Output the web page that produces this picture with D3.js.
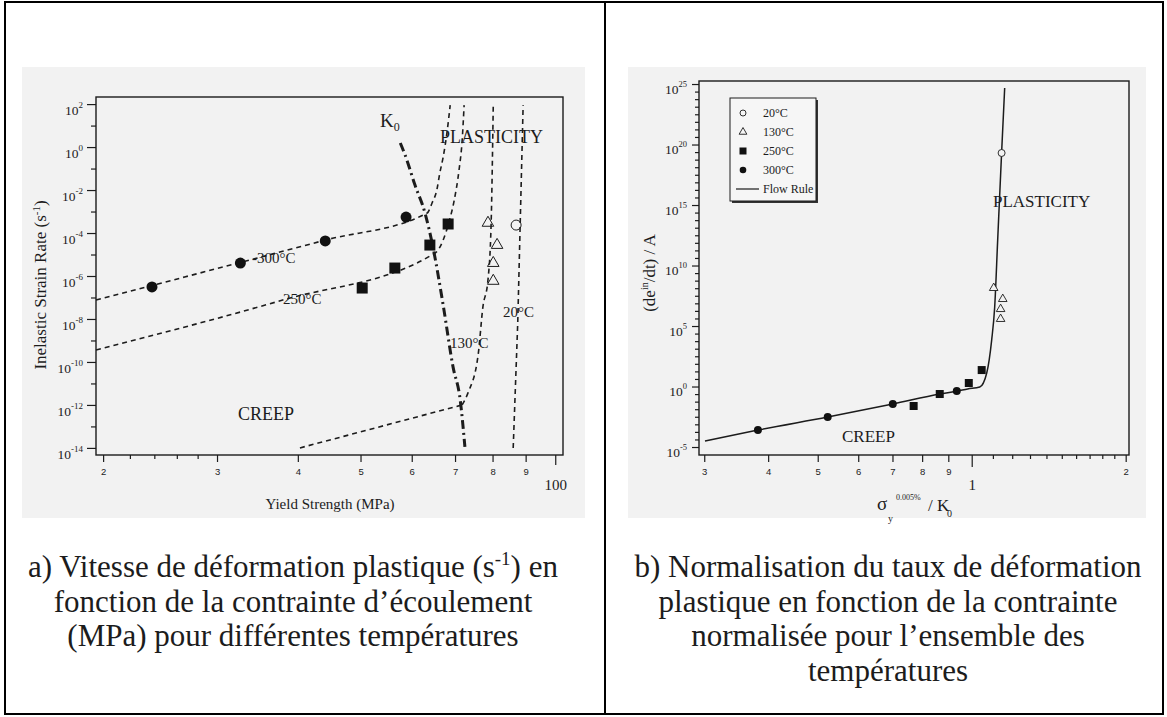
<!DOCTYPE html>
<html>
<head>
<meta charset="utf-8">
<script src="https://cdn.jsdelivr.net/npm/d3@7"></script>
<style>
    body { margin: 0; background: #fff; }
    svg text { font-family: "Liberation Serif", "Times New Roman", serif; fill: #1c1c1c; }
    .small text, text.small { font-family: "Liberation Sans", Arial, sans-serif; }
</style>
</head>
<body>
<svg id="fig" width="1167" height="717"></svg>
<script>
// ---------- data ----------
// panel a : yield strength (MPa) and log10 of the inelastic strain rate (1/s)
const stress300 = [23.8, 32.6, 44.1, 58.8];
const rate300 = [-6.51, -5.40, -4.37, -3.26];
const stress250 = [50.3, 56.5, 64.0, 68.3];
const rate250 = [-6.56, -5.63, -4.56, -3.58];
const stress130 = [78.7, 81.3, 80.2, 80.2];
const rate130 = [-3.53, -4.56, -5.40, -6.23];
const stress20 = [87.0];
const rate20 = [-3.63];

// dashed curves, [MPa, log10 rate]
const curve300 = [[19.5, -7.12], [44.1, -4.33], [63.4, -3.07], [64.5, -2.60], [65.6, -2.0], [66.3, -1.21], [67.1, -0.47], [68.0, 0.65], [68.8, 1.95]];
const curve250 = [[19.5, -9.44], [37.9, -7.12], [65.2, -4.93], [67.1, -4.33], [68.5, -3.49], [69.8, -2.47], [71.0, -1.07], [71.8, 0.33], [72.3, 1.95]];
const curve130 = [[71.8, -12.0], [73.3, -11.44], [76.0, -9.67], [77.3, -7.44], [78.7, -6.19], [79.6, -3.53], [80.2, 1.95]];
const creepLine = [[40.3, -14.0], [71.8, -12.0]];
const curve20 = [[86.1, -14.0], [87.5, -8.19], [89.2, 1.95]];
const curveK0 = [[57.6, 0.19], [58.6, -0.37], [60.7, -1.77], [62.9, -3.07], [64.7, -4.65], [67.1, -7.35], [69.5, -10.23], [71.3, -11.77], [72.5, -13.95]];

const xTicksA = [20, 30, 40, 50, 60, 70, 80, 90];
const xTickLabelsA = ["2", "3", "4", "5", "6", "7", "8", "9"];
const xMinorA = [22, 24, 26, 28];
const yExpA = [2, 0, -2, -4, -6, -8, -10, -12, -14];
const yMinorExpA = [1, -1, -3, -5, -7, -9, -11, -13];

// panel b : normalised stress and log10 of (d e_in/dt)/A
const norm300 = [0.382, 0.523, 0.701, 0.935];
const rateN300 = [-3.6, -2.52, -1.45, -0.37];
const norm250 = [0.770, 0.866, 0.987, 1.046];
const rateN250 = [-1.61, -0.62, 0.29, 1.36];
const norm130 = [1.104, 1.150, 1.139, 1.139];
const rateN130 = [8.14, 7.23, 6.40, 5.58];
const norm20 = [1.144];
const rateN20 = [19.3];
const flowRule = [[0.301, -4.5], [0.382, -3.6], [0.523, -2.52], [0.701, -1.45], [0.866, -0.62], [0.939, -0.37], [0.982, -0.2], [1.037, -0.04], [1.070, 1.12], [1.094, 3.84], [1.109, 6.57], [1.124, 12.1], [1.144, 19.3], [1.160, 24.67]];

const xTicksB = [0.3, 0.4, 0.5, 0.6, 0.7, 0.8, 0.9, 2];
const xTickLabelsB = ["3", "4", "5", "6", "7", "8", "9", "2"];
const xMinorB = [1.1, 1.2, 1.3, 1.4, 1.5, 1.6, 1.7, 1.8, 1.9];
const yExpB = [25, 20, 15, 10, 5, 0, -5];

const legendB = ["20°C", "130°C", "250°C", "300°C", "Flow Rule"];

const captionA = ["fonction de la contrainte d’écoulement", "(MPa) pour différentes températures"];
const captionB = ["b) Normalisation du taux de déformation", "plastique en fonction de la contrainte", "normalisée pour l’ensemble des", "températures"];

const ink = "#1c1c1c";
const svg = d3.select("#fig");

// ---------- table and scanned backgrounds ----------
svg.append("rect").attr("x", 5).attr("y", 2).attr("width", 1158).attr("height", 712)
    .attr("fill", "none").attr("stroke", "#000").attr("stroke-width", 2);
svg.append("line").attr("x1", 605).attr("x2", 605).attr("y1", 2).attr("y2", 714)
    .attr("stroke", "#000").attr("stroke-width", 2);
svg.append("rect").attr("x", 22).attr("y", 67).attr("width", 563).attr("height", 451).attr("fill", "#f2f2f2");
svg.append("rect").attr("x", 628).attr("y", 67).attr("width", 518).attr("height", 451).attr("fill", "#f2f2f2");

function pow10Labels(g, size, supSize, dy) {
    g.selectAll(".tick text").each(function (d) {
        let t = d3.select(this);
        let e = Math.round(Math.log10(d));
        t.text(null).attr("dy", dy).attr("font-size", size)
            .attr("font-family", "Liberation Serif, serif").attr("fill", ink);
        t.append("tspan").text("10");
        t.append("tspan").attr("font-size", supSize).attr("dy", -size * 0.55).text(e);
    });
}

function cleanAxis(g) {
    g.select(".domain").remove();
    g.selectAll("line").attr("stroke", ink).attr("stroke-width", 1.2);
}

// ---------- panel a ----------
function drawPanelA() {
    let x = d3.scaleLog().domain([19.5, 102.8]).range([96, 563]);
    let y = d3.scaleLog().domain([Math.pow(10, -14.33), Math.pow(10, 2.33)]).range([455, 97]);
    let px = d => x(d[0]);
    let py = d => y(Math.pow(10, d[1]));
    let g = svg.append("g");

    // frame
    g.append("rect").attr("x", 96).attr("y", 97).attr("width", 467).attr("height", 358)
        .attr("fill", "none").attr("stroke", ink).attr("stroke-width", 1.4);

    // y axis
    let yAxis = g.append("g").attr("transform", "translate(96,0)")
        .call(d3.axisLeft(y).tickValues(yExpA.map(e => Math.pow(10, e))).tickSize(9).tickPadding(4));
    cleanAxis(yAxis);
    pow10Labels(yAxis, 13.5, 9, "0.8em");
    let yMinor = g.append("g").attr("transform", "translate(96,0)")
        .call(d3.axisLeft(y).tickValues(yMinorExpA.map(e => Math.pow(10, e))).tickSize(5).tickFormat(""));
    cleanAxis(yMinor);

    // x axis
    let xAxis = g.append("g").attr("class", "small").attr("transform", "translate(0,455)")
        .call(d3.axisBottom(x).tickValues(xTicksA).tickSize(7).tickPadding(6)
            .tickFormat((d, i) => xTickLabelsA[i]));
    cleanAxis(xAxis);
    xAxis.selectAll("text").attr("font-size", 9.5).attr("fill", "#333");
    let xHundred = g.append("g").attr("transform", "translate(0,455)")
        .call(d3.axisBottom(x).tickValues([100]).tickSize(10).tickPadding(14).tickFormat(d3.format("d")));
    cleanAxis(xHundred);
    xHundred.selectAll("text").attr("font-size", 15).attr("font-family", "Liberation Serif, serif").attr("fill", ink);
    let xMinor = g.append("g").attr("transform", "translate(0,455)")
        .call(d3.axisBottom(x).tickValues(xMinorA).tickSize(4).tickFormat(""));
    cleanAxis(xMinor);

    // dashed curves
    let line = d3.line().x(px).y(py);
    let dashed = (data, curve) => g.append("path").datum(data)
        .attr("d", line.curve(curve)(data))
        .attr("fill", "none").attr("stroke", ink).attr("stroke-width", 1.6)
        .attr("stroke-dasharray", "5,4");
    dashed(curve300, d3.curveMonotoneX);
    dashed(curve250, d3.curveMonotoneX);
    dashed(curve130, d3.curveMonotoneX);
    dashed(creepLine, d3.curveLinear);
    dashed(curve20, d3.curveLinear);
    g.append("path").attr("d", line.curve(d3.curveMonotoneX)(curveK0))
        .attr("fill", "none").attr("stroke", ink).attr("stroke-width", 3)
        .attr("stroke-dasharray", "9,4,2,4");

    // markers
    g.selectAll(".c300").data(stress300).enter().append("circle")
        .attr("cx", d => x(d)).attr("cy", (d, i) => y(Math.pow(10, rate300[i])))
        .attr("r", 5.5).attr("fill", "#111");
    g.selectAll(".s250").data(stress250).enter().append("rect")
        .attr("x", d => x(d) - 5.5).attr("y", (d, i) => y(Math.pow(10, rate250[i])) - 5.5)
        .attr("width", 11).attr("height", 11).attr("fill", "#111");
    g.selectAll(".t130").data(stress130).enter().append("path")
        .attr("d", d3.symbol().type(d3.symbolTriangle).size(58))
        .attr("transform", (d, i) => "translate(" + x(d) + "," + y(Math.pow(10, rate130[i])) + ")")
        .attr("fill", "none").attr("stroke", ink).attr("stroke-width", 1);
    g.selectAll(".o20").data(stress20).enter().append("circle")
        .attr("cx", d => x(d)).attr("cy", (d, i) => y(Math.pow(10, rate20[i])))
        .attr("r", 5).attr("fill", "none").attr("stroke", ink).attr("stroke-width", 1);

    // annotations
    let k0 = g.append("text").attr("x", 380).attr("y", 127).attr("font-size", 19);
    k0.append("tspan").text("K");
    k0.append("tspan").attr("font-size", 12).attr("dy", 4).text("0");
    g.append("text").attr("x", 440).attr("y", 143).attr("font-size", 18).text("PLASTICITY");
    g.append("text").attr("x", 238).attr("y", 420).attr("font-size", 18).text("CREEP");
    g.append("text").attr("x", 252).attr("y", 263).attr("font-size", 15).text("-300°C");
    g.append("text").attr("x", 283).attr("y", 304).attr("font-size", 15).text("250°C");
    g.append("text").attr("x", 450).attr("y", 348).attr("font-size", 15).text("130°C");
    g.append("text").attr("x", 503).attr("y", 317).attr("font-size", 15).text("20°C");

    // axis titles
    let yl = g.append("text").attr("transform", "translate(46,285) rotate(-90)")
        .attr("text-anchor", "middle").attr("font-size", 17);
    yl.append("tspan").text("Inelastic Strain Rate (s");
    yl.append("tspan").attr("font-size", 11).attr("dy", -6).text("-1");
    yl.append("tspan").attr("dy", 6).text(")");
    g.append("text").attr("x", 330).attr("y", 509).attr("text-anchor", "middle")
        .attr("font-size", 15).text("Yield Strength (MPa)");
}

// ---------- panel b ----------
function drawPanelB() {
    let x = d3.scaleLog().domain([0.293, 2.03]).range([699, 1129]);
    let y = d3.scaleLog().domain([Math.pow(10, -5.66), Math.pow(10, 25.25)]).range([455, 81]);
    let g = svg.append("g");

    g.append("rect").attr("x", 699).attr("y", 81).attr("width", 430).attr("height", 374)
        .attr("fill", "none").attr("stroke", ink).attr("stroke-width", 1.4);

    // y axis, 7 minor ticks between labelled decades
    let minorExp = [];
    yExpB.slice(1).forEach(function (e) {
        for (let k = 1; k < 8; k++) minorExp.push(e + k * 5 / 8);
    });
    let yAxis = g.append("g").attr("transform", "translate(699,0)")
        .call(d3.axisLeft(y).tickValues(yExpB.map(e => Math.pow(10, e))).tickSize(7).tickPadding(5));
    cleanAxis(yAxis);
    pow10Labels(yAxis, 13.5, 8.5, "0.7em");
    let yMinor = g.append("g").attr("transform", "translate(699,0)")
        .call(d3.axisLeft(y).tickValues(minorExp.map(e => Math.pow(10, e))).tickSize(4).tickFormat(""));
    cleanAxis(yMinor);

    // x axis
    let xAxis = g.append("g").attr("class", "small").attr("transform", "translate(0,455)")
        .call(d3.axisBottom(x).tickValues(xTicksB).tickSize(7).tickPadding(6)
            .tickFormat((d, i) => xTickLabelsB[i]));
    cleanAxis(xAxis);
    xAxis.selectAll("text").attr("font-size", 9.5).attr("fill", "#333");
    let xOne = g.append("g").attr("transform", "translate(0,455)")
        .call(d3.axisBottom(x).tickValues([1]).tickSize(12).tickPadding(12).tickFormat(d3.format("d")));
    cleanAxis(xOne);
    xOne.selectAll("text").attr("font-size", 15).attr("font-family", "Liberation Serif, serif").attr("fill", ink);
    let xMinor = g.append("g").attr("transform", "translate(0,455)")
        .call(d3.axisBottom(x).tickValues(xMinorB).tickSize(4).tickFormat(""));
    cleanAxis(xMinor);

    // flow rule
    let line = d3.line().x(d => x(d[0])).y(d => y(Math.pow(10, d[1]))).curve(d3.curveMonotoneX);
    g.append("path").attr("d", line(flowRule))
        .attr("fill", "none").attr("stroke", ink).attr("stroke-width", 1.5);

    // markers
    g.selectAll(".c300").data(norm300).enter().append("circle")
        .attr("cx", d => x(d)).attr("cy", (d, i) => y(Math.pow(10, rateN300[i])))
        .attr("r", 4).attr("fill", "#111");
    g.selectAll(".s250").data(norm250).enter().append("rect")
        .attr("x", d => x(d) - 4).attr("y", (d, i) => y(Math.pow(10, rateN250[i])) - 4)
        .attr("width", 8).attr("height", 8).attr("fill", "#111");
    g.selectAll(".t130").data(norm130).enter().append("path")
        .attr("d", d3.symbol().type(d3.symbolTriangle).size(32))
        .attr("transform", (d, i) => "translate(" + x(d) + "," + y(Math.pow(10, rateN130[i])) + ")")
        .attr("fill", "#f2f2f2").attr("stroke", ink).attr("stroke-width", 0.9);
    g.selectAll(".o20").data(norm20).enter().append("circle")
        .attr("cx", d => x(d)).attr("cy", (d, i) => y(Math.pow(10, rateN20[i])))
        .attr("r", 3.5).attr("fill", "#f2f2f2").attr("stroke", ink).attr("stroke-width", 0.9);

    // legend
    let lg = g.append("g");
    lg.append("rect").attr("x", 732).attr("y", 100).attr("width", 86).attr("height", 103).attr("fill", "#333");
    lg.append("rect").attr("x", 730).attr("y", 98).attr("width", 86).attr("height", 103)
        .attr("fill", "#f6f6f6").attr("stroke", ink).attr("stroke-width", 1);
    let rowY = d3.scalePoint().domain(legendB).range([113, 189]);
    legendB.forEach(function (name, i) {
        let cy = rowY(name);
        if (i === 0) lg.append("circle").attr("cx", 743).attr("cy", cy).attr("r", 3)
            .attr("fill", "none").attr("stroke", ink).attr("stroke-width", 0.9);
        if (i === 1) lg.append("path").attr("d", d3.symbol().type(d3.symbolTriangle).size(26))
            .attr("transform", "translate(743," + cy + ")").attr("fill", "none").attr("stroke", ink).attr("stroke-width", 0.9);
        if (i === 2) lg.append("rect").attr("x", 739.5).attr("y", cy - 3.5).attr("width", 7).attr("height", 7).attr("fill", "#111");
        if (i === 3) lg.append("circle").attr("cx", 743).attr("cy", cy).attr("r", 3.3).attr("fill", "#111");
        if (i === 4) lg.append("line").attr("x1", 736).attr("x2", 759).attr("y1", cy).attr("y2", cy)
            .attr("stroke", ink).attr("stroke-width", 1.2);
        lg.append("text").attr("x", 763).attr("y", cy + 4).attr("font-size", 12).text(name);
    });

    // annotations
    g.append("text").attr("x", 993).attr("y", 207).attr("font-size", 17).text("PLASTICITY");
    g.append("text").attr("x", 842).attr("y", 442).attr("font-size", 17).text("CREEP");

    // axis titles
    let yl = g.append("text").attr("transform", "translate(655,273) rotate(-90)")
        .attr("text-anchor", "middle").attr("font-size", 17);
    yl.append("tspan").text("(de");
    yl.append("tspan").attr("font-size", 10).attr("dy", -7).text("in");
    yl.append("tspan").attr("dy", 7).text("/dt) / A");
    g.append("text").attr("x", 877).attr("y", 510).attr("font-size", 19).text("σ");
    g.append("text").attr("x", 888).attr("y", 522).attr("font-size", 10).text("y");
    g.append("text").attr("x", 896).attr("y", 500).attr("font-size", 8).text("0.005%");
    g.append("text").attr("x", 928).attr("y", 511).attr("font-size", 17).text("/ K");
    g.append("text").attr("x", 947).attr("y", 517).attr("font-size", 10).text("0");
}

// ---------- captions ----------
function drawCaptions() {
    let size = 31, lead = 34.5, top = 577;
    let first = svg.append("text").attr("x", 293).attr("y", top).attr("text-anchor", "middle").attr("font-size", size);
    first.append("tspan").text("a) Vitesse de déformation plastique (s");
    first.append("tspan").attr("font-size", 19).attr("dy", -12).text("-1");
    first.append("tspan").attr("dy", 12).text(") en");
    captionA.forEach(function (t, i) {
        svg.append("text").attr("x", 293).attr("y", top + lead * (i + 1)).attr("text-anchor", "middle")
            .attr("font-size", size).attr("fill", "#000").text(t);
    });
    captionB.forEach(function (t, i) {
        svg.append("text").attr("x", 888).attr("y", top + lead * i).attr("text-anchor", "middle")
            .attr("font-size", size).attr("fill", "#000").text(t);
    });
}

drawPanelA();
drawPanelB();
drawCaptions();
</script>
</body>
</html>
